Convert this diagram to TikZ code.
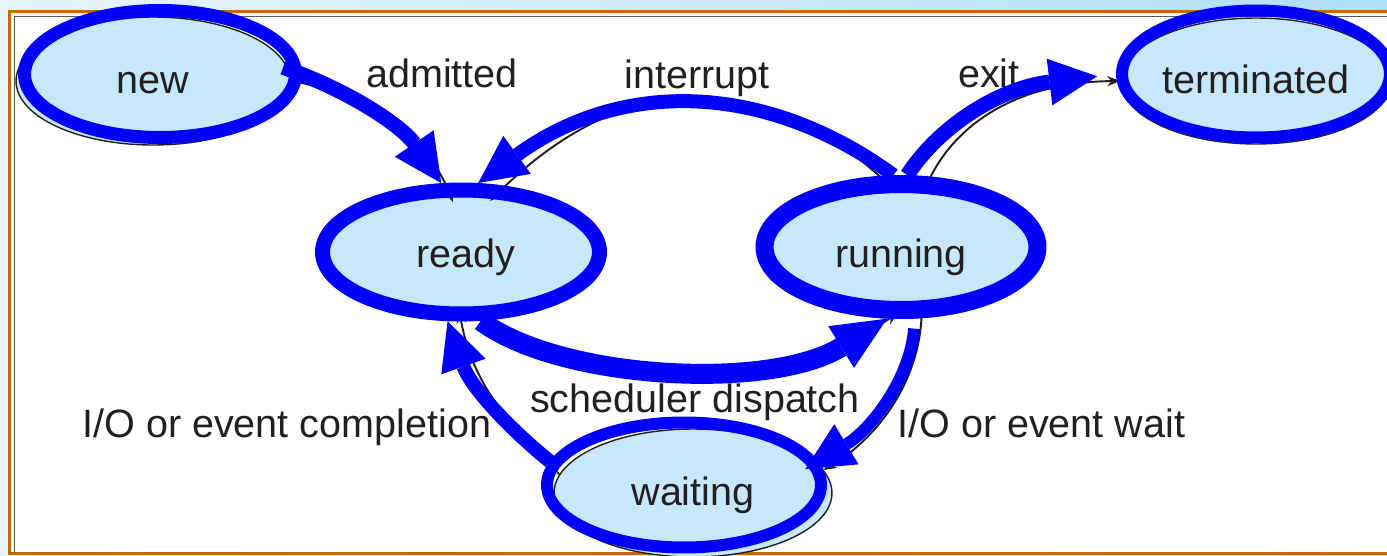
\documentclass[tikz,border=0pt]{standalone}
\usepackage{fontspec}
\setmainfont{Liberation Sans}
\usetikzlibrary{arrows.meta,shapes.geometric}

\definecolor{ink}{RGB}{35,31,32}
\definecolor{hl}{RGB}{0,0,255}
\definecolor{cell}{RGB}{198,232,250}
\definecolor{rim}{RGB}{204,102,0}
\definecolor{skyl}{RGB}{232,244,252}
\definecolor{skyr}{RGB}{176,222,248}

\begin{document}
\begin{tikzpicture}[
  x=0.02cm, y=-0.02cm,
  font=\fontsize{22.5}{27}\selectfont,
  state/.style={ellipse, draw=ink, line width=0.8pt, fill=cell, inner sep=0pt, text=ink, text height=0.58cm, text depth=0.1cm},
  ring/.style={ellipse, draw=hl, inner sep=0pt},
  tag/.style={text=ink, anchor=base, inner sep=0pt},
  flow/.style={draw=ink, line width=1.1pt, -{Stealth[length=0.26cm, width=0.2cm]}},
  hot/.style={draw=hl, -{Triangle[length=0.96cm, width=0.94cm, line width=0pt]}},
]
\useasboundingbox (0,0) rectangle (1387,555);
% frame
\shade[left color=skyl, right color=skyr] (0,0) rectangle (1387,555);
\fill[white] (9.7,11) rectangle (1387,553.5);
\draw[rim, line width=0.06cm] (1387,11) -| (9.7,553.5) -- (1387,553.5);
\draw[gray!70!black, line width=0.03cm] (14.5,553) |- (1387,16.5);

% original states
\node[state, minimum width=5.48cm, minimum height=2.56cm] (new) at (153,81) {new};
\node[state, minimum width=5.40cm, minimum height=2.52cm] (term) at (1256,81) {terminated};
\node[state, minimum width=5.52cm, minimum height=2.48cm] (ready) at (466,255) {ready};
\node[state, minimum width=5.52cm, minimum height=2.52cm] (run) at (901,255) {running};
\node[state, minimum width=5.56cm, minimum height=2.56cm] (wait) at (693,493) {waiting};

\draw[flow, shorten >=-0.2cm] (new.east) .. controls (360,92) and (425,130) .. (ready.105);
\draw[flow, shorten >=-0.2cm] (run.95) .. controls (772,68) and (628,62) .. (ready.63);
\draw[flow] (run.70) .. controls (945,135) and (1005,82) .. (term.west);
\draw[flow, shorten >=-0.2cm] (ready.-70) .. controls (560,385) and (775,395) .. (run.-100);
\draw[flow] (run.-72) .. controls (918,385) and (875,440) .. (wait.10);
\draw[flow, shorten >=-0.15cm] (wait.172) .. controls (510,425) and (472,385) .. (ready.-95);

% labels
\node[tag] (admitted) at (442,87) {admitted};
\node[tag] (interrupt) at (697,88) {interrupt};
\node[tag] (exit) at (989,87) {exit};
\node[tag] (dispatch) at (695,412) {scheduler dispatch};
\node[tag, anchor=base west] (iodone) at (82,437) {I/O or event completion};
\node[tag, anchor=base west] (iowait) at (897,437) {I/O or event wait};

% blue highlight
\node[ring, line width=0.26cm, minimum width=5.42cm, minimum height=2.54cm] (newring) at (160,74) {};
\node[ring, line width=0.24cm, minimum width=5.36cm, minimum height=2.54cm] (termring) at (1256,74) {};
\node[ring, line width=0.30cm, minimum width=5.54cm, minimum height=2.48cm] (readyring) at (461,252) {};
\node[ring, line width=0.36cm, minimum width=5.46cm, minimum height=2.52cm] (runring) at (901,247) {};
\node[ring, line width=0.24cm, minimum width=5.48cm, minimum height=2.50cm] (waitring) at (684,485) {};

\draw[hot, line width=0.3cm, shorten <=-0.4cm] (newring.east) .. controls (360,95) and (405,130) .. (readyring.106);
\draw[hot, line width=0.28cm] (runring.96) .. controls (770,85) and (626,76) .. (readyring.76);
\draw[hot, line width=0.3cm, shorten >=0.38cm] (runring.85) .. controls (940,125) and (1000,88) .. (termring.west);
\draw[hot, line width=0.4cm, -{Triangle[length=1.08cm, width=0.98cm, line width=0pt]}] (readyring.-74) .. controls (560,380) and (770,391) .. (runring.-101);
\draw[hot, line width=0.24cm, shorten <=0.2cm, shorten >=-0.3cm] (runring.-79) .. controls (910,380) and (870,430) .. (waitring.10);
\draw[hot, line width=0.28cm] (waitring.170) .. controls (505,425) and (470,385) .. (readyring.-101);
\end{tikzpicture}
\end{document}
